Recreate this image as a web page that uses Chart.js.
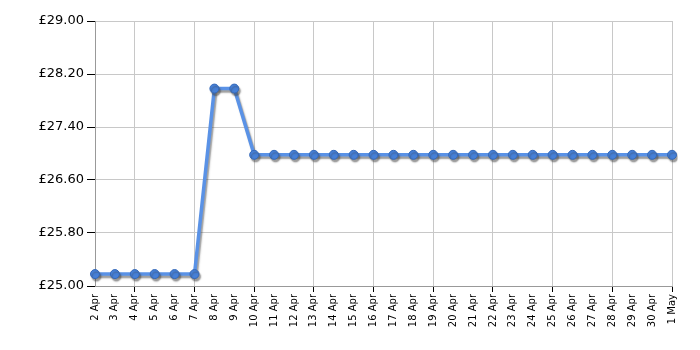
<!DOCTYPE html>
<html><head><meta charset="utf-8">
<script src="https://cdn.jsdelivr.net/npm/chart.js@4"></script>
<style>html,body{margin:0;padding:0;background:#fff}#w{width:700px;height:350px}</style>
</head><body><div id="w"><canvas id="c"></canvas></div>
<script>
const categories = ["2 Apr","3 Apr","4 Apr","5 Apr","6 Apr","7 Apr","8 Apr","9 Apr","10 Apr","11 Apr","12 Apr","13 Apr","14 Apr","15 Apr","16 Apr","17 Apr","18 Apr","19 Apr","20 Apr","21 Apr","22 Apr","23 Apr","24 Apr","25 Apr","26 Apr","27 Apr","28 Apr","29 Apr","30 Apr","1 May"];
const prices = [25.18,25.18,25.18,25.18,25.18,25.18,27.98,27.98,26.98,26.98,26.98,26.98,26.98,26.98,26.98,26.98,26.98,26.98,26.98,26.98,26.98,26.98,26.98,26.98,26.98,26.98,26.98,26.98,26.98,26.98];
const yTicks = [25.00,25.80,26.60,27.40,28.20,29.00];

const shadow = {
  id:'shadow',
  beforeDatasetDraw(chart){const ctx=chart.ctx;ctx.save();ctx.shadowColor='rgba(60,60,60,0.5)';ctx.shadowBlur=1.5;ctx.shadowOffsetX=1.5;ctx.shadowOffsetY=2.5;},
  afterDatasetDraw(chart){chart.ctx.restore();}
};
new Chart(document.getElementById('c'),{
  type:'line',
  data:{labels:categories,datasets:[{data:prices,borderColor:'#5a92e6',borderWidth:3.5,tension:0,
    pointRadius:4.5,pointBackgroundColor:'#4680d8',pointBorderColor:'#3468b8',pointBorderWidth:1}]},
  plugins:[shadow],
  options:{responsive:true,maintainAspectRatio:false,animation:false,
    layout:{padding:{top:21,right:28,left:0,bottom:0}},
    plugins:{legend:{display:false},tooltip:{enabled:false}},
    scales:{
      x:{offset:false,
        afterFit(s){s.height=64;},
        grid:{color:(c)=>c.index%3===2?'#c8c8c8':'rgba(0,0,0,0)',tickColor:(c)=>c.index%3===2?'#000':'rgba(0,0,0,0)',tickLength:6,drawTicks:true},
        border:{color:'#999',width:1},
        ticks:{autoSkip:false,minRotation:90,maxRotation:90,color:'#000',font:{family:'DejaVu Sans',size:10},padding:2}},
      y:{min:25,max:29,
        afterBuildTicks(s){s.ticks=yTicks.map(v=>({value:v}));},
        afterFit(s){s.width=95;},
        grid:{color:'#c8c8c8',tickColor:'#000',tickLength:8},
        border:{color:'#999',width:1},
        ticks:{color:'#000',font:{family:'DejaVu Sans',size:13},padding:3,callback:(v)=>'£'+Number(v).toFixed(2)}}
    }}
});
</script></body></html>
